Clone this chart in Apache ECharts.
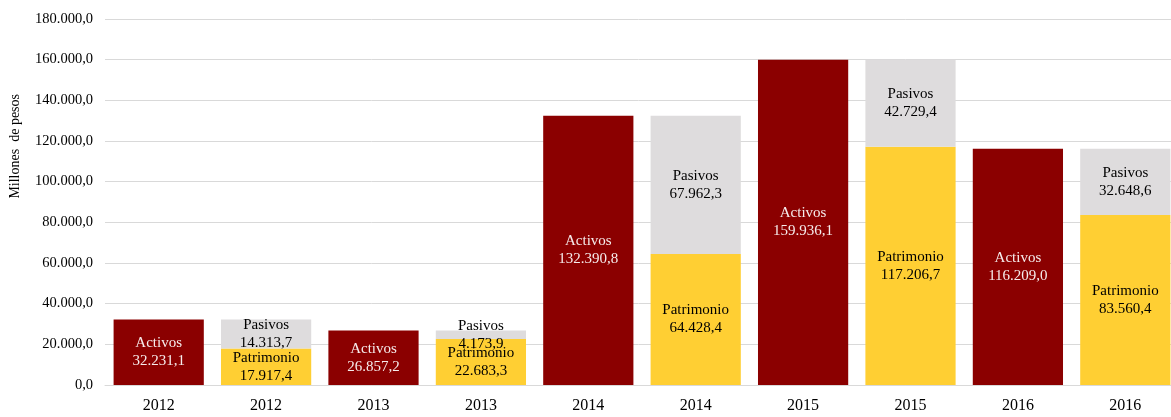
<!DOCTYPE html>
<html>
<head>
<meta charset="utf-8">
<script src="https://cdn.jsdelivr.net/npm/echarts@6/dist/echarts.min.js"></script>
<style>
  html, body { margin: 0; padding: 0; background: #fff; }
  #chart { width: 1171px; height: 417px; }
</style>
</head>
<body>
<div id="chart"></div>
<script>
const years = ['2012', '2012', '2013', '2013', '2014', '2014', '2015', '2015', '2016', '2016'];
// activos en las columnas impares, patrimonio + pasivos apilados en las pares
const activos =    [32231.1, '-', 26857.2, '-', 132390.8, '-', 159936.1, '-', 116209.0, '-'];
const patrimonio = ['-', 17917.4, '-', 22683.3, '-', 64428.4, '-', 117206.7, '-', 83560.4];
const pasivos =    ['-', 14313.7, '-', 4173.9, '-', 67962.3, '-', 42729.4, '-', 32648.6];

const FONT = '"Liberation Serif", "Times New Roman", serif';

function fmt(v, dec) {
  let parts = Number(v).toFixed(dec).split('.');
  let ent = parts[0].replace(/\B(?=(\d{3})+(?!\d))/g, '.');
  return dec > 0 ? ent + ',' + parts[1] : ent;
}

function label(name, color) {
  return {
    show: true,
    position: 'inside',
    fontFamily: FONT,
    fontSize: 15,
    lineHeight: 18,
    color: color,
    formatter: p => name + '\n' + fmt(p.value, 1)
  };
}

let ec = echarts.init(document.getElementById('chart'));
let option = {
  animation: false,
  grid: { left: 105, width: 1074, top: 19, bottom: 32, outerBoundsMode: 'none', containLabel: false },
  graphic: [{
    type: 'text',
    left: 8,
    top: 94,
    rotation: Math.PI / 2,
    style: {
      text: 'Millones  de pesos',
      font: '14px ' + FONT,
      fill: '#000'
    }
  }],
  xAxis: {
    type: 'category',
    data: years,
    axisLine: { lineStyle: { color: '#d9d9d9' } },
    axisTick: { show: false },
    axisLabel: { color: '#000', fontFamily: FONT, fontSize: 16, margin: 13 }
  },
  yAxis: {
    type: 'value',
    min: 0,
    max: 180000,
    interval: 20000,
    axisLine: { show: false },
    axisTick: { show: false },
    splitLine: { lineStyle: { color: '#d9d9d9' } },
    axisLabel: { color: '#000', fontFamily: FONT, fontSize: 14.5, margin: 12, formatter: v => fmt(v, 1) }
  },
  series: [{
    name: 'Activos',
    type: 'bar',
    stack: 'total',
    barWidth: '84%',
    itemStyle: { color: '#8b0000' },
    label: label('Activos', '#f6ecec'),
    data: activos
  }, {
    name: 'Patrimonio',
    type: 'bar',
    stack: 'total',
    barWidth: '84%',
    itemStyle: { color: '#ffcf33' },
    label: label('Patrimonio', '#000'),
    data: patrimonio
  }, {
    name: 'Pasivos',
    type: 'bar',
    stack: 'total',
    barWidth: '84%',
    itemStyle: { color: '#dedcdd' },
    label: label('Pasivos', '#000'),
    data: pasivos
  }]
};
ec.setOption(option);
</script>
</body>
</html>
